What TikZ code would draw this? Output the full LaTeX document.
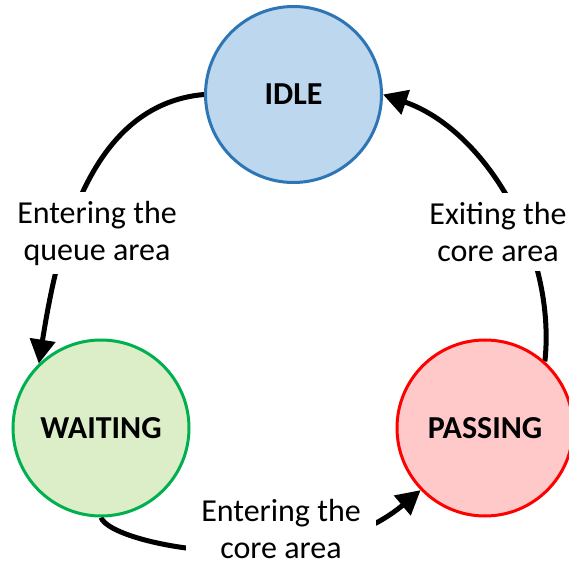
\documentclass[tikz,border=0pt]{standalone}
\usepackage{fontspec}
\setmainfont{Carlito}
\usetikzlibrary{arrows.meta}
\definecolor{idlefill}{HTML}{BDD7EE}
\definecolor{idledraw}{HTML}{2E75B6}
\definecolor{waitfill}{HTML}{DCEEC8}
\definecolor{waitdraw}{HTML}{00B050}
\definecolor{passfill}{HTML}{FFC9C9}
\definecolor{passdraw}{HTML}{FF0000}
\begin{document}
\begin{tikzpicture}[x=1pt,y=1pt,
  state/.style={circle,line width=3pt,minimum size=176pt,inner sep=0pt,
    font=\fontsize{32}{38}\selectfont\bfseries},
  lbl/.style={fill=white,align=center,inner xsep=4pt,inner ysep=9pt,
    font=\fontsize{32}{37}\selectfont},
  trans/.style={line width=5pt,-{Triangle[length=24pt,width=25pt]}}]
\useasboundingbox (0,0) rectangle (569,567);
% state positions
\coordinate (pi) at (293.5,472.5);
\coordinate (pw) at (101,139);
\coordinate (pp) at (485,139);
% invisible placeholders to get borders
\node[state] (IDLE) at (pi) {};
\node[state] (WAITING) at (pw) {};
\node[state] (PASSING) at (pp) {};
% connectors
\draw[trans] (IDLE.west) .. controls +(185:116) and +(81:118) .. (WAITING.134);
\draw[trans] (PASSING.48) .. controls +(84:112) and +(-19:108) .. (IDLE.east);
\draw[trans] (WAITING.270) .. controls +(-70:30) and +(220:145) .. (PASSING.224.5);
% labels
\node[lbl] (lq) at (97,334) {Entering the\\queue area};
\node[lbl] (lx) at (498,335) {Exiting the\\core area};
\node[lbl,inner xsep=15pt,inner ysep=1pt] (lc) at (281,38) {Entering the\\core area};
% states drawn on top
\node[state,draw=idledraw,fill=idlefill] at (pi) {IDLE};
\node[state,draw=waitdraw,fill=waitfill] at (pw) {WAITING};
\node[state,draw=passdraw,fill=passfill] at (pp) {PASSING};
\end{tikzpicture}
\end{document}
